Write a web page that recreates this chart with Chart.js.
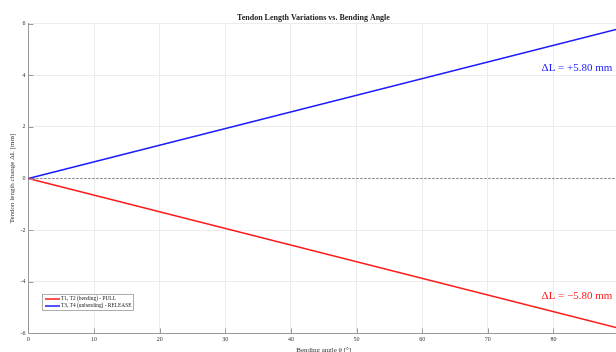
<!DOCTYPE html>
<html>
<head>
<meta charset="utf-8">
<script src="https://cdn.jsdelivr.net/npm/chart.js@4.4.1/dist/chart.umd.min.js"></script>
<style>
  html, body { margin: 0; padding: 0; background: #fff; overflow: hidden; }
  #wrap { position: relative; width: 622px; height: 354px; }
</style>
</head>
<body>
<div id="wrap"><canvas id="c"></canvas></div>
<script>
// Bending angle (degrees) and tendon length change (mm)
const angles = [0, 90];
const pullDelta = [0, -5.8];     // T1, T2 (bending) - PULL
const releaseDelta = [0, 5.8];   // T3, T4 (unbending) - RELEASE
const xTicks = [0, 10, 20, 30, 40, 50, 60, 70, 80, 90];
const yTicks = [-6, -4, -2, 0, 2, 4, 6];
const seriesLabels = ['T1, T2 (bending) - PULL', 'T3, T4 (unbending) - RELEASE'];
const seriesColors = ['#ff1a1a', '#1a1aff'];

const serif = '"Liberation Serif", "DejaVu Serif", serif';

const toPoints = (xs, ys) => xs.map((x, i) => ({ x, y: ys[i] }));

const extras = {
  id: 'extras',
  beforeDatasetsDraw(chart) {
    const { ctx, scales: { x, y } } = chart;
    // zero reference line
    ctx.save();
    ctx.strokeStyle = '#777';
    ctx.lineWidth = 1;
    ctx.setLineDash([2, 2]);
    ctx.beginPath();
    ctx.moveTo(x.getPixelForValue(0), y.getPixelForValue(0));
    ctx.lineTo(x.getPixelForValue(90), y.getPixelForValue(0));
    ctx.stroke();
    ctx.restore();
  },
  afterDraw(chart) {
    const { ctx, scales: { x, y } } = chart;
    ctx.save();
    // inward tick marks on both axes
    ctx.strokeStyle = '#999';
    ctx.lineWidth = 1;
    const yb = y.getPixelForValue(-6);
    const xl = x.getPixelForValue(0);
    xTicks.forEach(v => {
      const px = Math.round(x.getPixelForValue(v)) + 0.5;
      ctx.beginPath();
      ctx.moveTo(px, yb);
      ctx.lineTo(px, yb - 5);
      ctx.stroke();
    });
    yTicks.forEach(v => {
      const py = Math.round(y.getPixelForValue(v)) + 0.5;
      ctx.beginPath();
      ctx.moveTo(xl, py);
      ctx.lineTo(xl + 5, py);
      ctx.stroke();
    });
    // end-value annotations
    ctx.font = '11px ' + serif;
    ctx.textBaseline = 'middle';
    ctx.textAlign = 'left';
    ctx.fillStyle = seriesColors[1];
    ctx.fillText('ΔL = +' + releaseDelta[1].toFixed(2) + ' mm', x.getPixelForValue(78.2), y.getPixelForValue(4.26));
    ctx.fillStyle = seriesColors[0];
    ctx.fillText('ΔL = −' + Math.abs(pullDelta[1]).toFixed(2) + ' mm', x.getPixelForValue(78.2), y.getPixelForValue(-4.56));
    // legend box
    const lx = 42, ly = 294, lw = 91, lh = 16;
    ctx.fillStyle = '#fff';
    ctx.fillRect(lx, ly, lw, lh);
    ctx.strokeStyle = '#999';
    ctx.lineWidth = 0.8;
    ctx.strokeRect(lx + 0.5, ly + 0.5, lw, lh);
    ctx.font = '5.4px ' + serif;
    ctx.fillStyle = '#222';
    ctx.textBaseline = 'middle';
    chart.data.datasets.forEach((ds, i) => {
      const yy = ly + 5 + i * 7;
      ctx.strokeStyle = ds.borderColor;
      ctx.lineWidth = 1.5;
      ctx.beginPath();
      ctx.moveTo(lx + 3, yy);
      ctx.lineTo(lx + 18, yy);
      ctx.stroke();
      ctx.fillText(ds.label, lx + 19, yy);
    });
    ctx.restore();
  }
};

new Chart(document.getElementById('c'), {
  type: 'scatter',
  data: {
    datasets: [
      { label: seriesLabels[0], data: toPoints(angles, pullDelta), borderColor: seriesColors[0], backgroundColor: seriesColors[0], showLine: true, borderWidth: 1.5, pointRadius: 0 },
      { label: seriesLabels[1], data: toPoints(angles, releaseDelta), borderColor: seriesColors[1], backgroundColor: seriesColors[1], showLine: true, borderWidth: 1.5, pointRadius: 0 }
    ]
  },
  options: {
    responsive: true,
    maintainAspectRatio: false,
    animation: false,
    layout: { padding: { left: 8, right: 3, top: 0, bottom: 0 } },
    plugins: {
      legend: { display: false },
      tooltip: { enabled: false },
      title: {
        display: true,
        text: 'Tendon Length Variations vs. Bending Angle',
        font: { family: serif, size: 8, weight: 'bold' },
        color: '#222',
        padding: { top: 13, bottom: 1 }
      }
    },
    scales: {
      x: {
        type: 'linear',
        min: 0, max: 90,
        afterBuildTicks: s => { s.ticks = xTicks.map(v => ({ value: v })); },
        ticks: {
          font: { family: serif, size: 6 }, color: '#333', padding: 2,
          callback: v => (v === 90 ? '' : v)
        },
        grid: { color: '#ececec', drawTicks: false },
        border: { color: '#999', width: 1 },
        title: { display: true, text: 'Bending angle θ [°]', font: { family: serif, size: 7 }, color: '#333', padding: { top: 1, bottom: 0 } }
      },
      y: {
        type: 'linear',
        min: -6, max: 6,
        afterBuildTicks: s => { s.ticks = yTicks.map(v => ({ value: v })); },
        ticks: { font: { family: serif, size: 6 }, color: '#333', padding: 3 },
        grid: { color: '#ececec', drawTicks: false },
        border: { color: '#999', width: 1 },
        title: { display: true, text: 'Tendon length change ΔL [mm]', font: { family: serif, size: 7 }, color: '#333', padding: { top: 0, bottom: 1 } }
      }
    }
  },
  plugins: [extras]
});
</script>
</body>
</html>
